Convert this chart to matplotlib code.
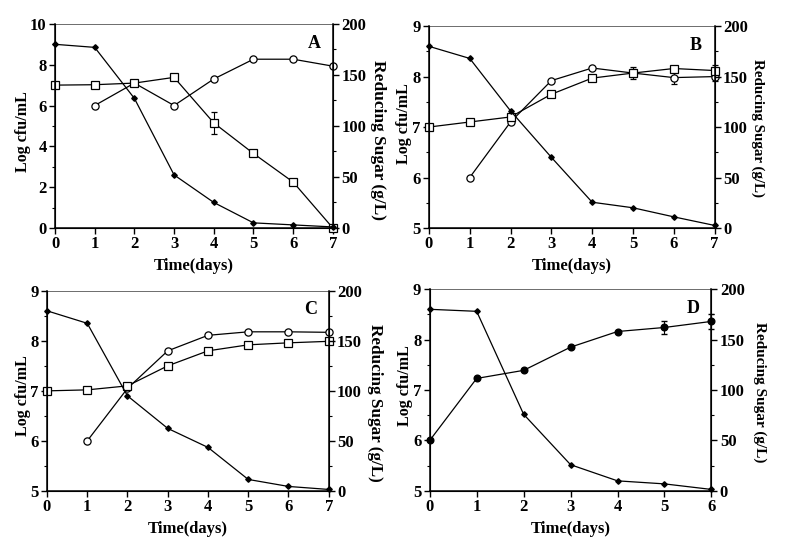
import matplotlib
matplotlib.use("Agg")
import matplotlib.pyplot as plt
from matplotlib.ticker import MultipleLocator

plt.rcParams["font.family"] = ["Liberation Serif", "DejaVu Serif"]
plt.rcParams["font.weight"] = "bold"
plt.rcParams["axes.labelweight"] = "bold"

# panel A
days_a = [0, 1, 2, 3, 4, 5, 6, 7]
sugar_a = [180, 177, 127, 52, 25, 5, 3, 1]
circ_a = [None, 6.0, 7.1, 6.0, 7.3, 8.27, 8.27, 7.93]
sq_a = [7.0, 7.02, 7.1, 7.38, 5.15, 3.65, 2.25, 0.0]
sq_a_err = [0, 0, 0, 0, 0.55, 0, 0, 0]

# panel B
days_b = [0, 1, 2, 3, 4, 5, 6, 7]
sugar_b = [180, 168, 116, 70, 25.5, 20, 11, 2.5]
circ_b = [None, 6.0, 7.1, 7.92, 8.17, 8.07, 7.98, 8.0]
circ_b_err = [0, 0, 0, 0, 0, 0.08, 0.12, 0.08]
sq_b = [7.0, 7.1, 7.2, 7.65, 7.97, 8.07, 8.16, 8.12]
sq_b_err = [0, 0, 0, 0, 0, 0.12, 0, 0.1]

# panel C
days_c = [0, 1, 2, 3, 4, 5, 6, 7]
sugar_c = [180, 167.5, 95, 62.5, 43.5, 11.5, 4.5, 1.5]
circ_c = [None, 6.0, 7.05, 7.8, 8.11, 8.18, 8.18, 8.17]
sq_c = [7.0, 7.02, 7.1, 7.5, 7.8, 7.92, 7.96, 7.99]

# panel D
days_d = [0, 1, 2, 3, 4, 5, 6]
sugar_d = [180, 178, 76, 26, 10, 7, 1.5]
circ_d = [6.0, 7.23, 7.39, 7.85, 8.16, 8.24, 8.36]
circ_d_err = [0, 0, 0, 0, 0, 0.12, 0.15]

fig = plt.figure(figsize=(7.87, 5.56), dpi=100)

def panel(rect, letter, xmax, ylim, ystep, lpos, rpos, rsize):
    ax = fig.add_axes(rect)
    ax.set_xlim(0, xmax)
    ax.set_ylim(*ylim)
    ax.yaxis.set_major_locator(MultipleLocator(ystep))
    ax.yaxis.set_minor_locator(MultipleLocator(ystep / 2))
    ax.xaxis.set_major_locator(MultipleLocator(1))
    ax.set_xlabel("Time(days)", fontsize=12, labelpad=4)
    ax.tick_params(direction="out", labelsize=12, length=4, width=1, pad=2)
    ax.tick_params(which="minor", length=2.5, width=0.8)
    ax.spines["top"].set_linewidth(0.6)
    ax.spines["top"].set_color("#555555")
    for s in ["left", "bottom"]:
        ax.spines[s].set_linewidth(1.1)
    ax.text(0.935, 0.905, letter, transform=ax.transAxes, fontsize=13,
            ha="center", va="center", fontweight="bold")
    # axis titles placed as text to match the original positions
    ax.text(lpos[0], lpos[1], "Log cfu/mL", transform=ax.transAxes, fontsize=11.5,
            rotation=90, ha="center", va="center", fontweight="bold")
    ax.text(rpos[0], rpos[1], "Reducing Sugar (g/L)", transform=ax.transAxes,
            fontsize=rsize, rotation=270, ha="center", va="center", fontweight="bold")
    ax2 = ax.twinx()
    ax2.set_ylim(0, 200)
    ax2.yaxis.set_major_locator(MultipleLocator(50))
    ax2.yaxis.set_minor_locator(MultipleLocator(25))
    ax2.tick_params(direction="out", labelsize=12, length=4, width=1, pad=2)
    ax2.tick_params(which="minor", length=2.5, width=0.8)
    ax2.spines["right"].set_linewidth(1.1)
    ax2.spines["top"].set_visible(False)
    return ax, ax2

line_kw = dict(color="black", lw=0.9, clip_on=False)
diam_kw = dict(marker="D", ms=2.8, mfc="black", mec="black", **line_kw)
circ_kw = dict(marker="o", ms=5.2, mfc="white", mec="black", mew=0.9, **line_kw)
sq_kw = dict(marker="s", ms=5.2, mfc="white", mec="black", mew=0.9, **line_kw)
eb_kw = dict(ecolor="black", elinewidth=0.8, capsize=2.5)

def strip(x, y, e=None):
    idx = [i for i, v in enumerate(y) if v is not None]
    xs = [x[i] for i in idx]
    ys = [y[i] for i in idx]
    es = [e[i] for i in idx] if e is not None else None
    return xs, ys, es

# A
ax, ax2 = panel([0.0699, 0.590, 0.353, 0.367], "A", 7, (0, 10), 2,
                (-0.115, 0.47), (1.162, 0.43), 12.5)
ax.errorbar(days_a, sq_a, yerr=sq_a_err, **sq_kw, **eb_kw)
xs, ys, _ = strip(days_a, circ_a)
ax.plot(xs, ys, **circ_kw)
ax2.plot(days_a, sugar_a, **diam_kw)

# B
ax, ax2 = panel([0.545, 0.590, 0.363, 0.363], "B", 7, (5, 9), 1,
                (-0.087, 0.515), (1.15, 0.495), 10.8)
xs, ys, es = strip(days_b, circ_b, circ_b_err)
ax.errorbar(xs, ys, yerr=es, **circ_kw, **eb_kw)
ax.errorbar(days_b, sq_b, yerr=sq_b_err, **sq_kw, **eb_kw)
ax2.plot(days_b, sugar_b, **diam_kw)

# C
ax, ax2 = panel([0.0597, 0.117, 0.358, 0.360], "C", 7, (5, 9), 1,
                (-0.085, 0.475), (1.163, 0.44), 12.3)
xs, ys, _ = strip(days_c, circ_c)
ax.plot(xs, ys, **circ_kw)
ax.plot(days_c, sq_c, **sq_kw)
ax2.plot(days_c, sugar_c, **diam_kw)

# D
ax, ax2 = panel([0.546, 0.117, 0.358, 0.363], "D", 6, (5, 9), 1,
                (-0.089, 0.52), (1.17, 0.49), 11.0)
ax.errorbar(days_d, circ_d, yerr=circ_d_err, marker="o", ms=4.8, mfc="black",
            mec="black", color="black", lw=0.9, clip_on=False, **eb_kw)
ax2.plot(days_d, sugar_d, **diam_kw)

fig.savefig("out.png", dpi=100)
